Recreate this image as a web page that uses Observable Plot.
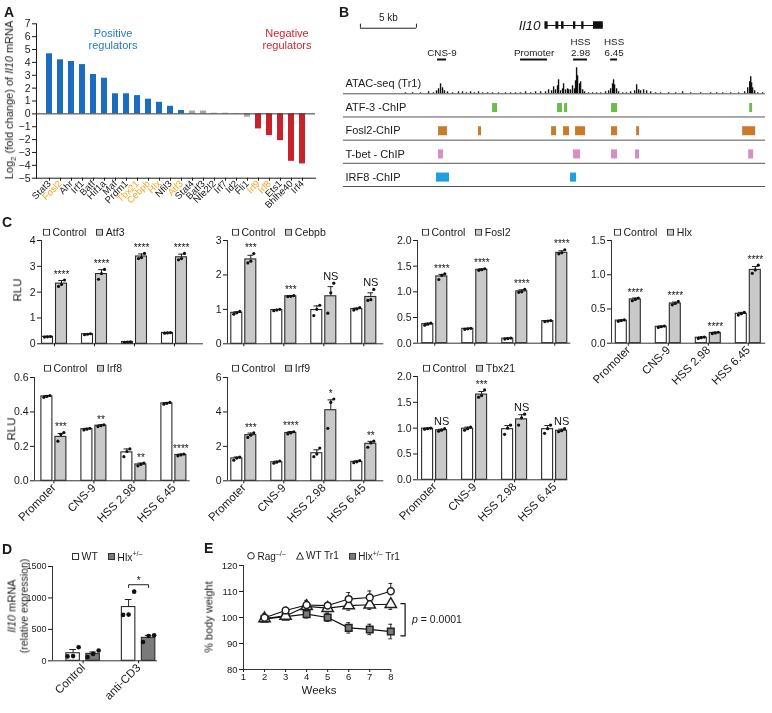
<!DOCTYPE html>
<html><head><meta charset="utf-8">
<script src="https://cdn.jsdelivr.net/npm/d3@7"></script>
<script src="https://cdn.jsdelivr.net/npm/@observablehq/plot@0.6"></script>
<style>
body{margin:0;background:#fff;font-family:"Liberation Sans",Arial,Helvetica,sans-serif;color:#1a1a1a}
#fig{position:relative;width:772px;height:713px;overflow:hidden;background:#fff}
.t{position:absolute;white-space:nowrap;line-height:1}
svg text{-webkit-font-smoothing:antialiased}
</style></head><body><div id="fig"></div>
<script>
// ---------------- DATA ----------------
// Panel A
const aGenes = ["Stat3","Fosl2","Ahr","Irf1","Batf","Hif1a","Maf","Prdm1","Tbx21","Cebpb","Hlx","Nfil3","Atf3","Stat4","Batf3","Nfe2l2","Irf7","Id2","Fli1","Irf9","Irf8","Ets1","Bhlhe40","Irf4"];
const aLog2FC = [4.67,4.2,4.07,3.83,3.06,2.77,1.56,1.56,1.42,1.14,0.9,0.59,0.26,0.22,0.22,0.05,0.05,-0.03,-0.26,-1.17,-1.69,-2.08,-3.69,-3.89];
const aGroup = ["pos","pos","pos","pos","pos","pos","pos","pos","pos","pos","pos","pos","pos","ns","ns","ns","ns","ns","ns","neg","neg","neg","neg","neg"];
const aTested = ["Fosl2","Tbx21","Cebpb","Hlx","Atf3","Irf9","Irf8"];
const aTicks = [-5,-4,-3,-2,-1,0,1,2,3,4,5,6,7];

// Panel B (genomic positions in kb)
const scaleBar = {start: -2.95, kb: 5};
const geneSpan = [13.57, 18.75];
const geneExons = [[13.57,13.75],[14.55,14.7],[15.05,15.17],[16.12,16.22],[16.85,16.95],[17.9,18.67]];
const bRegions = ["CNS-9","Promoter","HSS\n2.98","HSS\n6.45"];
const bRegionSpans = [[3.93,4.73],[11.34,13.75],[16.07,17.32],[19.38,20.0]];
const atacPos = [1.07,1.7,2.41,3.13,3.57,3.84,4.02,4.2,4.38,4.55,4.82,5.27,5.8,6.16,6.52,6.88,7.23,7.59,7.95,8.39,8.84,9.38,10.0,10.45,10.89,11.34,11.79,12.23,12.68,13.13,13.57,13.84,14.11,14.29,14.46,14.64,14.73,14.91,15.09,15.18,15.36,15.54,15.63,15.8,15.98,16.16,16.25,16.34,16.43,16.61,16.7,16.88,17.05,17.41,17.77,18.13,18.48,18.93,19.2,19.38,19.55,19.64,19.73,19.91,20.09,20.45,20.8,21.16,21.52,21.7,21.88,22.05,22.32,22.59,22.95,23.39,23.84,24.55,25.18,25.8,26.52,27.41,28.3,28.84,29.38,30.09,30.8,31.34,31.61,31.79,31.88,31.96,32.05,32.23,32.5,32.95];
const atacSignal = [1,1,1,2,1,3,5,10,6,3,2,1,2,2,1,2,1,2,1,1,1,1,1,1,1,1,2,1,2,2,2,4,3,7,4,8,14,3,5,10,4,5,4,4,8,5,13,26,18,10,12,4,2,1,1,1,1,2,3,5,10,14,9,5,2,1,1,2,3,9,4,3,4,3,2,1,1,1,1,2,1,1,1,1,1,1,1,2,6,12,17,11,6,3,1,1];
const chipTracks = ["ATF-3 -ChIP","Fosl2-ChIP","T-bet - ChIP","IRF8 -ChIP"];
const chipColors = ["#6cbd4e","#c97b2c","#d58fc2","#1f9fe0"];
const atf3Peaks = [[8.84,9.29],[14.64,15.09],[15.27,15.54],[19.46,20.0],[31.79,32.05]];
const fosl2Peaks = [[4.02,4.82],[7.59,7.86],[14.11,14.55],[15.18,15.71],[16.25,17.14],[19.46,20.0],[21.7,21.96],[31.16,32.32]];
const tbetPeaks = [[4.02,4.46],[16.07,16.7],[19.46,20.0],[21.6,21.96],[31.7,32.14]];
const irf8Peaks = [[3.84,5.0],[15.8,16.34]];

// Panel C
const regions = ["Promoter","CNS-9","HSS 2.98","HSS 6.45"];
const atf3Ctrl = [0.27,0.37,0.07,0.42], atf3CtrlErr = [0.02,0.02,0.01,0.02];
const atf3CtrlDots = [[0.26,0.27,0.28],[0.35,0.37,0.39],[0.06,0.07,0.08],[0.41,0.42,0.43]];
const atf3Val = [2.33,2.7,3.38,3.35], atf3Err = [0.12,0.17,0.1,0.12];
const atf3Dots = [[2.22,2.3,2.47],[2.5,2.72,2.88],[3.3,3.34,3.5],[3.25,3.3,3.5]];
const atf3Sig = ["****","****","****","****"];

const cebpbCtrl = [0.9,0.98,0.98,1.01], cebpbCtrlErr = [0.03,0.02,0.12,0.03];
const cebpbCtrlDots = [[0.86,0.9,0.94],[0.96,0.98,1.0],[0.82,1.0,1.12],[0.98,1.01,1.05]];
const cebpbVal = [2.45,1.38,1.38,1.36], cebpbErr = [0.12,0.02,0.28,0.12];
const cebpbDots = [[2.35,2.4,2.62],[1.37,1.38,1.4],[0.89,1.48,1.76],[1.26,1.28,1.58]];
const cebpbSig = ["***","***","NS","NS"];

const fosl2Ctrl = [0.37,0.28,0.09,0.43], fosl2CtrlErr = [0.02,0.01,0.01,0.01];
const fosl2CtrlDots = [[0.35,0.37,0.39],[0.27,0.28,0.29],[0.08,0.09,0.1],[0.42,0.43,0.44]];
const fosl2Val = [1.3,1.43,1.01,1.76], fosl2Err = [0.04,0.02,0.03,0.04];
const fosl2Dots = [[1.24,1.32,1.35],[1.42,1.43,1.45],[0.99,1.0,1.05],[1.74,1.76,1.82]];
const fosl2Sig = ["****","****","****","****"];

const hlxCtrl = [0.33,0.24,0.08,0.43], hlxCtrlErr = [0.01,0.01,0.01,0.02];
const hlxCtrlDots = [[0.32,0.33,0.34],[0.23,0.24,0.25],[0.07,0.08,0.09],[0.41,0.43,0.45]];
const hlxVal = [0.64,0.58,0.15,1.07], hlxErr = [0.02,0.02,0.01,0.05];
const hlxDots = [[0.62,0.64,0.66],[0.56,0.58,0.61],[0.14,0.15,0.16],[1.02,1.07,1.14]];
const hlxSig = ["****","****","****","****"];

const irf8Ctrl = [0.49,0.3,0.165,0.45], irf8CtrlErr = [0.005,0.005,0.02,0.005];
const irf8CtrlDots = [[0.485,0.49,0.495],[0.295,0.3,0.305],[0.14,0.17,0.185],[0.445,0.45,0.455]];
const irf8Val = [0.255,0.32,0.095,0.15], irf8Err = [0.02,0.005,0.008,0.005];
const irf8Dots = [[0.23,0.27,0.28],[0.315,0.32,0.325],[0.087,0.095,0.103],[0.145,0.15,0.155]];
const irf8Sig = ["***","**","**","****"];

const irf9Ctrl = [1.3,1.08,1.6,1.1], irf9CtrlErr = [0.08,0.06,0.2,0.06];
const irf9CtrlDots = [[1.2,1.32,1.38],[1.02,1.08,1.15],[1.4,1.55,1.9],[1.05,1.1,1.17]];
const irf9Val = [2.65,2.78,4.1,2.15], irf9Err = [0.12,0.08,0.6,0.14];
const irf9Dots = [[2.52,2.65,2.78],[2.72,2.78,2.85],[3.05,4.55,4.75],[1.95,2.2,2.3]];
const irf9Sig = ["***","****","*","**"];

const tbx21Ctrl = [0.99,0.99,0.98,0.98], tbx21CtrlErr = [0.01,0.03,0.07,0.07];
const tbx21CtrlDots = [[0.98,0.99,1.0],[0.96,0.99,1.02],[0.88,1.0,1.06],[0.9,0.99,1.06]];
const tbx21Val = [0.96,1.65,1.17,0.95], tbx21Err = [0.02,0.06,0.09,0.03];
const tbx21Dots = [[0.94,0.96,0.99],[1.6,1.63,1.74],[1.06,1.2,1.27],[0.93,0.95,0.99]];
const tbx21Sig = ["NS","***","NS","NS"];

// Panel D
const dGroups = ["Control","anti-CD3"];
const dWT = [120,855], dWTErr = [60,120], dWTDots = [[70,75,215],[730,735,1100]];
const dHlx = [110,365], dHlxErr = [30,40], dHlxDots = [[60,110,165],[300,395,405]];
const dTicks = [0,500,1000,1500];
const dSig = "*";

// Panel E
const eWeeks = [2,3,4,5,6,7,8];
const eRag = [99.9,102.7,104.8,104.6,107.1,107.7,110.1], eRagErr = [1.5,1,1.8,1.2,2.5,2.5,3];
const eWT = [99.6,100.6,104.3,103.6,104.6,104.9,105.1], eWTErr = [1,1,1.5,1.5,1.8,1.8,2];
const eHlx = [99.5,100.3,101.3,100,96,95.4,94.6], eHlxErr = [1,1,1.5,1.5,2,2,2.8];
const eYTicks = [80,90,100,110,120];
const eWeekTicks = [1,2,3,4,5,6,7,8];
const eBracket = {top: 105.3, bottom: 92.9};

// ---------------- HELPERS ----------------
const fig = document.getElementById("fig");
const FONT = '"Liberation Sans", Arial, Helvetica, sans-serif';
const baseStyle = {fontFamily: FONT, fontSize: "10px", color: "#1a1a1a", background: "transparent", overflow: "visible"};
function place(node, left, top) {
  node.style.position = "absolute"; node.style.left = left + "px"; node.style.top = top + "px";
  node.style.willChange = "transform";
  fig.appendChild(node); return node;
}
function txt(html, left, top, css = {}) {
  const d = document.createElement("div"); d.className = "t"; d.innerHTML = html;
  Object.assign(d.style, css); return place(d, left, top);
}
function legend(x, cy, items, fs) {
  const d = document.createElement("div");
  Object.assign(d.style, {display: "flex", alignItems: "center", fontSize: fs + "px", lineHeight: "1", transform: "translateY(-50%)", whiteSpace: "nowrap"});
  items.forEach((it, i) => {
    const sw = document.createElement("span");
    sw.style.display = "inline-flex"; sw.style.marginLeft = i ? "10px" : "0"; sw.style.marginRight = "2.5px";
    sw.innerHTML = it.shape;
    const lb = document.createElement("span"); lb.innerHTML = it.label;
    d.append(sw, lb);
  });
  return place(d, x, cy);
}
const sq = fill => `<svg width="7" height="7"><rect x="0.5" y="0.5" width="6" height="6" fill="${fill}" stroke="#333"/></svg>`;

// ---------------- PANEL LETTERS ----------------
txt("A", 4, 5, {fontWeight: "bold", fontSize: "14px"});
txt("B", 339, 5, {fontWeight: "bold", fontSize: "14px"});
txt("C", 2, 215, {fontWeight: "bold", fontSize: "14px"});
txt("D", 2, 542, {fontWeight: "bold", fontSize: "14px"});
txt("E", 204, 541, {fontWeight: "bold", fontSize: "14px"});

// ---------------- PANEL A ----------------
{
  const colors = {pos: "#1a6dbf", ns: "#a6a6a6", neg: "#c8232c"};
  const rows = aGenes.map((g, i) => ({gene: g, v: aLog2FC[i], c: colors[aGroup[i]]}));
  const svg = Plot.plot({
    width: 325, height: 213, marginLeft: 36, marginRight: 10, marginTop: 23.3, marginBottom: 35.3,
    style: {...baseStyle, fontSize: "10.5px"},
    x: {domain: aGenes, paddingInner: 0.42, paddingOuter: 0.21, tickSize: 3, tickFormat: () => "", label: null, line: true},
    y: {domain: [-5, 7], ticks: aTicks, tickSize: 4, tickPadding: 2, label: null, line: true},
    marks: [
      Plot.barY(rows, {x: "gene", y: "v", fill: "c"}),
      Plot.ruleY([0], {stroke: "#333"}),
      Plot.text(aGenes, {x: d => d, frameAnchor: "bottom", rotate: -45, textAnchor: "end", dy: 6, dx: 2, fontSize: 9.5,
        fill: d => aTested.includes(d) ? "#f5a623" : "#1a1a1a"})
    ]
  });
  place(svg, 0, 0);
  txt("Positive<br>regulators", 112.5, 39, {transform: "translate(-50%,-50%)", textAlign: "center", fontSize: "11px", lineHeight: "12px", color: "#1f78c8"});
  txt("Negative<br>regulators", 286.5, 39, {transform: "translate(-50%,-50%)", textAlign: "center", fontSize: "11px", lineHeight: "12px", color: "#d0262e"});
  txt("Log<sub style='font-size:8px'>2</sub> (fold change) of <i>Il10</i> mRNA", 11, 100, {transform: "translate(-50%,-50%) rotate(-90deg)", fontSize: "11px"});
}

// ---------------- PANEL B ----------------
{
  const xDom = [-4.46, 33.2];
  const exRows = geneExons.map(([a, b]) => ({a, b}));
  const regRows = bRegions.map((r, i) => ({label: r, a: bRegionSpans[i][0], b: bRegionSpans[i][1]}));
  const header = Plot.plot({
    width: 430, height: 60, marginLeft: 3, marginRight: 5, marginTop: 0, marginBottom: 0,
    style: baseStyle,
    x: {domain: xDom, axis: null}, y: {domain: [1.3235, -0.4412], axis: null},
    marks: [
      Plot.ruleY([0.08], {x1: scaleBar.start, x2: scaleBar.start + scaleBar.kb, stroke: "#222"}),
      Plot.ruleX([scaleBar.start, scaleBar.start + scaleBar.kb], {y1: 0.08, y2: -0.04, stroke: "#222"}),
      Plot.text(["5 kb"], {x: scaleBar.start + scaleBar.kb / 2, y: 0.08, dy: -10, fontSize: 10}),
      Plot.ruleY([0], {x1: geneSpan[0], x2: geneSpan[1], stroke: "#111", strokeWidth: 1}),
      Plot.rect(exRows, {x1: "a", x2: "b", y1: -0.11, y2: 0.11, fill: "#111", insetLeft: -0.6, insetRight: -0.6}),
      Plot.text(["Il10"], {x: geneSpan[0], y: 0, dx: -5, textAnchor: "end", fontStyle: "italic", fontSize: 13.5}),
      Plot.ruleY(regRows, {y: 1, x1: "a", x2: "b", stroke: "#111", strokeWidth: 2}),
      Plot.text(regRows, {x: d => (d.a + d.b) / 2, y: 1, text: "label", lineAnchor: "bottom", dy: -4, fontSize: 9.8, lineHeight: 1.05})
    ]
  });
  place(header, 340, 10);

  const atac = atacPos.map((p, i) => ({p, h: atacSignal[i]}));
  const atacPlot = Plot.plot({
    width: 430, height: 36, marginLeft: 3, marginRight: 5, marginTop: 3.3, marginBottom: 2.7,
    style: baseStyle,
    x: {domain: xDom, axis: null}, y: {domain: [0, 30], axis: null},
    marks: [
      Plot.ruleX(atac, {x: "p", y1: 0, y2: "h", stroke: "#111", strokeWidth: 1.4}),
      Plot.ruleY([0], {stroke: "#555"}),
      Plot.text(["ATAC-seq (Tr1)"], {frameAnchor: "bottom-left", textAnchor: "start", dx: 2, dy: -7, fontSize: 11})
    ]
  });
  place(atacPlot, 340, 60);

  const peaks = [atf3Peaks, fosl2Peaks, tbetPeaks, irf8Peaks].flatMap((arr, t) => arr.map(([a, b]) => ({t, a, b})));
  const chip = Plot.plot({
    width: 430, height: 99, marginLeft: 3, marginRight: 5, marginTop: 3.3, marginBottom: 3,
    style: baseStyle,
    x: {domain: xDom, axis: null}, y: {domain: [3.5, -0.5], axis: null},
    marks: [
      Plot.rect(peaks, {x1: "a", x2: "b", y1: d => d.t - 0.08, y2: d => d.t + 0.31, fill: d => chipColors[d.t]}),
      Plot.ruleY(chipTracks, {y: (d, i) => i + 0.5, stroke: "#555"}),
      Plot.text(chipTracks, {y: (d, i) => i + 0.1, frameAnchor: "left", textAnchor: "start", dx: 2, fontSize: 11})
    ]
  });
  place(chip, 340, 90);
}

// ---------------- PANEL C / D grouped bars ----------------
function groupedBars(o) {
  const xMin = (o.axisX - o.c0) / o.step, xMax = (o.axisEnd - o.c0) / o.step;
  const mL = 36, mR = 8, mT = 24, mB = o.showLabels ? 62 : 10;
  const W = mL + (o.axisEnd - o.axisX) + mR, H = mT + (o.bottom - o.top) + mB;
  const bars = [];
  o.groups.forEach((g, i) => o.series.forEach((s, k) => bars.push({
    x: i + (k ? o.off : -o.off), m: s.mean[i], e: s.err[i], dots: s.dots[i], fill: s.fill, sig: s.sig ? s.sig[i] : null
  })));
  const pts = bars.flatMap(b => b.dots.map((v, j) => ({x: b.x + (j - 1) * o.jit, v})));
  const tops = bars.filter(b => b.sig).map(b => ({x: b.x, y: Math.max(b.m + b.e, ...b.dots), s: b.sig}));
  const marks = [
    Plot.rectY(bars, {x1: d => d.x - o.bw / 2, x2: d => d.x + o.bw / 2, y1: 0, y2: "m", fill: "fill", stroke: "#2b2b2b", strokeWidth: 1.1}),
    Plot.ruleX(bars, {x: "x", y1: "m", y2: d => d.m + d.e, stroke: "#222"}),
    Plot.ruleY(bars, {y: d => d.m + d.e, x1: d => d.x - o.capw, x2: d => d.x + o.capw, stroke: "#222"}),
    Plot.dot(pts, {x: "x", y: "v", r: o.dotR, fill: "#111", stroke: "none"}),
    Plot.ruleX([xMin], {y1: 0, y2: o.yMax, stroke: "#333"}),
    Plot.ruleY([0], {stroke: "#333"}),
    Plot.axisY({ticks: o.yTicks, tickFormat: o.fmt, tickSize: 4, tickPadding: 2, fontSize: o.tickFont || 10.5, label: null}),
    Plot.axisX({ticks: o.groups.map((_, i) => i), tickFormat: i => o.showLabels ? o.groups[i] : "", tickSize: 3, tickPadding: 2,
      tickRotate: o.showLabels ? -45 : 0, fontSize: o.labelFont || 11.5, label: null}),
    Plot.text(tops.filter(t => t.s !== "NS"), {x: "x", y: "y", text: "s", dy: -5.5, fontSize: 10, fill: "#111"}),
    Plot.text(tops.filter(t => t.s === "NS"), {x: "x", y: "y", text: "s", dy: -7, fontSize: 11, fill: "#111"}),
    ...(o.extra || [])
  ];
  const svg = Plot.plot({width: W, height: H, marginLeft: mL, marginRight: mR, marginTop: mT, marginBottom: mB, style: baseStyle,
    x: {domain: [xMin, xMax]}, y: {domain: [0, o.yMax]}, marks});
  place(svg, o.axisX - mL, o.top - mT);
}
const f1 = d3.format(".1f"), f0 = d3.format("d");
const C = {step: 40, off: 0.175, bw: 0.275, capw: 0.07, jit: 0.075, dotR: 1.6, groups: regions};
const ctrlFill = "#ffffff", trtFill = "#c9c9c9";
function cPanel(o, name, ctrl, ctrlErr, ctrlDots, val, err, dots, sig, legX, legY) {
  groupedBars({...C, ...o, series: [
    {mean: ctrl, err: ctrlErr, dots: ctrlDots, fill: ctrlFill},
    {mean: val, err: err, dots: dots, fill: trtFill, sig}
  ]});
  legend(legX, legY, [{shape: sq(ctrlFill), label: "Control"}, {shape: sq(trtFill), label: name}], 10.5);
}
cPanel({axisX: 41, c0: 54, axisEnd: 203, top: 240, bottom: 343.3, yMax: 4, yTicks: [0,1,2,3,4], fmt: f0},
  "Atf3", atf3Ctrl, atf3CtrlErr, atf3CtrlDots, atf3Val, atf3Err, atf3Dots, atf3Sig, 43, 232);
cPanel({axisX: 226.7, c0: 243, axisEnd: 383, top: 240, bottom: 343.3, yMax: 3, yTicks: [0,1,2,3], fmt: f0},
  "Cebpb", cebpbCtrl, cebpbCtrlErr, cebpbCtrlDots, cebpbVal, cebpbErr, cebpbDots, cebpbSig, 231.5, 232);
cPanel({axisX: 416.7, c0: 434, axisEnd: 570, top: 240, bottom: 342.7, yMax: 2, yTicks: [0,0.5,1,1.5,2], fmt: f1},
  "Fosl2", fosl2Ctrl, fosl2CtrlErr, fosl2CtrlDots, fosl2Val, fosl2Err, fosl2Dots, fosl2Sig, 421.5, 232);
cPanel({axisX: 610.7, c0: 627.5, axisEnd: 765, top: 240, bottom: 342.7, yMax: 1.5, yTicks: [0,0.5,1,1.5], fmt: f1, showLabels: true},
  "Hlx", hlxCtrl, hlxCtrlErr, hlxCtrlDots, hlxVal, hlxErr, hlxDots, hlxSig, 614, 232);
cPanel({axisX: 34.3, c0: 53.7, axisEnd: 190, top: 376.7, bottom: 480, yMax: 0.6, yTicks: [0,0.2,0.4,0.6], fmt: f1, showLabels: true},
  "Irf8", irf8Ctrl, irf8CtrlErr, irf8CtrlDots, irf8Val, irf8Err, irf8Dots, irf8Sig, 44, 368);
cPanel({axisX: 226.7, c0: 243, axisEnd: 383, top: 376.7, bottom: 480, yMax: 6, yTicks: [0,2,4,6], fmt: f0, showLabels: true},
  "Irf9", irf9Ctrl, irf9CtrlErr, irf9CtrlDots, irf9Val, irf9Err, irf9Dots, irf9Sig, 231.5, 368);
cPanel({axisX: 416.7, c0: 433.8, axisEnd: 567, top: 375.7, bottom: 479, yMax: 2, yTicks: [0,0.5,1,1.5,2], fmt: f1, showLabels: true},
  "Tbx21", tbx21Ctrl, tbx21CtrlErr, tbx21CtrlDots, tbx21Val, tbx21Err, tbx21Dots, tbx21Sig, 422.5, 368);
txt("RLU", 18, 290, {transform: "translate(-50%,-50%) rotate(-90deg)", fontSize: "11.5px"});
txt("RLU", 12, 429, {transform: "translate(-50%,-50%) rotate(-90deg)", fontSize: "11.5px"});

// ---------------- PANEL D ----------------
{
  const off = 0.18;
  const by = Math.max(...dWTDots[1], ...dHlxDots[1]) + 110;
  const bracket = [{x: 1 - off, y: by - 45}, {x: 1 - off, y: by}, {x: 1 + off, y: by}, {x: 1 + off, y: by - 45}];
  groupedBars({axisX: 51.7, c0: 82.3, axisEnd: 156.7, top: 565.7, bottom: 660, step: 55.5, off, bw: 0.243, capw: 0.06, jit: 0.1, dotR: 2.3,
    groups: dGroups, showLabels: true, yMax: 1500, yTicks: dTicks, fmt: f0, tickFont: 9, labelFont: 11.5,
    series: [
      {mean: dWT, err: dWTErr, dots: dWTDots, fill: "#ffffff"},
      {mean: dHlx, err: dHlxErr, dots: dHlxDots, fill: "#7a7a7a"}
    ],
    extra: [
      Plot.line(bracket, {x: "x", y: "y", stroke: "#222", strokeWidth: 1}),
      Plot.text([dSig], {x: 1, y: by, dy: -4, fontSize: 10, fill: "#111"})
    ]
  });
  legend(71.5, 556, [{shape: sq("#ffffff"), label: "WT"}, {shape: sq("#7a7a7a"), label: "Hlx<sup style='font-size:7px'>+/–</sup>"}], 10.5);
  txt("<i>Il10</i> mRNA", 12, 606, {transform: "translate(-50%,-50%) rotate(-90deg)", fontSize: "11px"});
  txt("(relative expression)", 23.5, 606, {transform: "translate(-50%,-50%) rotate(-90deg)", fontSize: "10.5px"});
}

// ---------------- PANEL E ----------------
{
  const mk = (name, v, e) => eWeeks.map((w, i) => ({s: name, w, v: v[i], e: e[i]}));
  const rag = mk("rag", eRag, eRagErr), wt = mk("wt", eWT, eWTErr), hlx = mk("hlx", eHlx, eHlxErr);
  const all = [...rag, ...wt, ...hlx];
  const cw = 0.09;
  const errUp = [...rag, ...hlx], errDown = [...wt, ...hlx];
  const br = [{x: 8.48, y: eBracket.top}, {x: 8.68, y: eBracket.top}, {x: 8.68, y: eBracket.bottom}, {x: 8.48, y: eBracket.bottom}];
  const svg = Plot.plot({
    width: 30 + 147.3 + 45, height: 20 + 104 + 30, marginLeft: 30, marginRight: 45, marginTop: 20, marginBottom: 30,
    style: baseStyle,
    x: {domain: [1, 8]}, y: {domain: [80, 120]},
    marks: [
      Plot.ruleX([1], {y1: 80, y2: 120, stroke: "#333"}),
      Plot.ruleY([80], {stroke: "#333"}),
      Plot.axisX({ticks: eWeekTicks, tickFormat: f0, tickSize: 3, tickPadding: 1, fontSize: 9.5, label: null}),
      Plot.axisY({ticks: eYTicks, tickFormat: f0, tickSize: 4, tickPadding: 2, fontSize: 9.5, label: null}),
      Plot.ruleX(errUp, {x: "w", y1: "v", y2: d => d.v + d.e, stroke: "#222"}),
      Plot.ruleY(errUp, {y: d => d.v + d.e, x1: d => d.w - cw, x2: d => d.w + cw, stroke: "#222"}),
      Plot.ruleX(errDown, {x: "w", y1: "v", y2: d => d.v - d.e, stroke: "#222"}),
      Plot.ruleY(errDown, {y: d => d.v - d.e, x1: d => d.w - cw, x2: d => d.w + cw, stroke: "#222"}),
      Plot.line(all, {x: "w", y: "v", z: "s", stroke: "#111", strokeWidth: 1.2}),
      Plot.dot(hlx, {x: "w", y: "v", symbol: "square", r: 3.7, fill: "#7a7a7a", stroke: "#222"}),
      Plot.dot(wt, {x: "w", y: "v", symbol: "triangle", r: 4.2, fill: "#fff", stroke: "#222"}),
      Plot.dot(rag, {x: "w", y: "v", r: 3.4, fill: "#fff", stroke: "#222"}),
      Plot.line(br, {x: "x", y: "y", stroke: "#111", strokeWidth: 1.2})
    ]
  });
  place(svg, 242.7 - 30, 565 - 20);
  const circ = `<svg width="8" height="8"><circle cx="4" cy="4" r="3.3" fill="#fff" stroke="#222"/></svg>`;
  const tri = `<svg width="8" height="8"><path d="M4,0.6L7.5,7.4H0.5Z" fill="#fff" stroke="#222"/></svg>`;
  legend(246.5, 556, [
    {shape: circ, label: "Rag<sup style='font-size:7px'>–/–</sup>"},
    {shape: tri, label: "WT Tr1"},
    {shape: sq("#7a7a7a"), label: "Hlx<sup style='font-size:7px'>+/–</sup> Tr1"}
  ], 10);
  txt("Weeks", 319, 691, {transform: "translate(-50%,-50%)", fontSize: "11.5px"});
  txt("% body weight", 209, 617, {transform: "translate(-50%,-50%) rotate(-90deg)", fontSize: "11px"});
  txt("<i>p</i> = 0.0001", 411.5, 619, {transform: "translateY(-50%)", fontSize: "10.5px"});
}
</script></body></html>
